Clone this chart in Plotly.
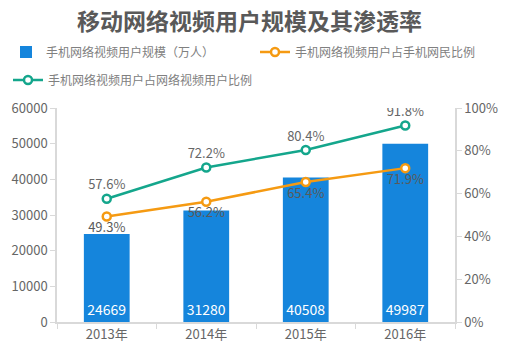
import plotly.graph_objects as go

years = ["2013年", "2014年", "2015年", "2016年"]
users = [24669, 31280, 40508, 49987]
share_mobile = [49.3, 56.2, 65.4, 71.9]
share_video = [57.6, 72.2, 80.4, 91.8]
left_ticks = [0, 10000, 20000, 30000, 40000, 50000, 60000]
right_ticks = [0, 20, 40, 60, 80, 100]

FONT = "Noto Sans CJK SC"
GRAY = "#666666"

fig = go.Figure()
fig.add_trace(go.Bar(
    x=years, y=users, name="手机网络视频用户规模（万人）",
    marker=dict(color="#1585dc", line=dict(width=0)),
    width=0.46,
    text=[str(v) for v in users], textposition="inside", textangle=0,
    insidetextanchor="start", constraintext="none",
    textfont=dict(color="white", size=14, family=FONT),
    legend="legend",
))
fig.add_trace(go.Scatter(
    x=years, y=share_mobile, yaxis="y2", name="手机网络视频用户占手机网民比例",
    mode="lines+markers+text",
    line=dict(color="#f59a12", width=2.5),
    marker=dict(size=8, color="white", line=dict(color="#f59a12", width=2.5)),
    text=[f"{v:.1f}%" for v in share_mobile], textposition="bottom center",
    textfont=dict(color="#5a5a5a", size=13, family=FONT),
    legend="legend2",
))
fig.add_trace(go.Scatter(
    x=years, y=share_video, yaxis="y2", name="手机网络视频用户占网络视频用户比例",
    mode="lines+markers+text",
    line=dict(color="#14a68c", width=2.5),
    marker=dict(size=8, color="white", line=dict(color="#14a68c", width=2.5)),
    text=[f"{v:.1f}%" for v in share_video], textposition="top center",
    textfont=dict(color=GRAY, size=13, family=FONT),
    legend="legend3",
))

leg_common = dict(orientation="h", xref="container", yref="container",
                  xanchor="left", yanchor="middle", itemwidth=30,
                  font=dict(size=12, color="#808080", family=FONT),
                  bgcolor="rgba(0,0,0,0)")

fig.update_layout(
    width=520, height=362,
    margin=dict(l=57, r=65, t=108, b=40, autoexpand=False),
    paper_bgcolor="white", plot_bgcolor="white",
    font=dict(family=FONT, color=GRAY, size=12),
    title=dict(text="<b>移动网络视频用户规模及其渗透率</b>", x=0.48, xanchor="center",
               y=1 - 22 / 362, yanchor="middle", font=dict(size=23, color="#595959", family=FONT)),
    showlegend=True,
    legend=dict(x=6 / 520, y=1 - 52 / 362, **leg_common),
    legend2=dict(x=255 / 520, y=1 - 52 / 362, **leg_common),
    legend3=dict(x=8 / 520, y=1 - 80 / 362, **leg_common),
    xaxis=dict(type="category", showline=True, linecolor="#d9d9d9", linewidth=1.5,
               ticks="outside", tickson="boundaries", ticklen=5, tickcolor="#d9d9d9",
               showgrid=False, tickfont=dict(size=13, color=GRAY)),
    yaxis=dict(range=[0, 60000], tickvals=left_ticks, ticktext=[str(v) for v in left_ticks],
               showline=True, linecolor="#d9d9d9",
               linewidth=1.5, ticks="outside", ticklen=5, tickcolor="#d9d9d9",
               showgrid=False, zeroline=False, tickfont=dict(size=13, color=GRAY)),
    yaxis2=dict(range=[0, 100], tickvals=right_ticks, ticktext=[f"{v}%" for v in right_ticks],
                overlaying="y", side="right", showline=True, linecolor="#d9d9d9",
                linewidth=1.5, ticks="outside", ticklen=5, tickcolor="#d9d9d9",
                showgrid=False, zeroline=False, tickfont=dict(size=13, color=GRAY)),
)
fig.write_html("out.html", config={"displayModeBar": False},
               post_script="document.body.style.margin='0';")
